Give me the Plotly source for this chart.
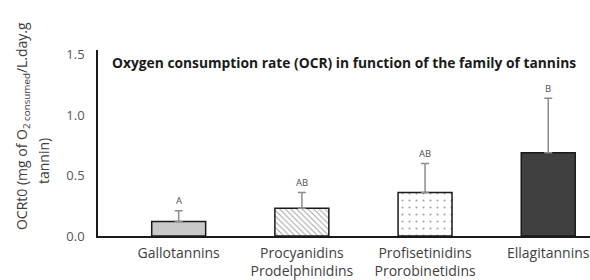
import plotly.graph_objects as go

categories = ["Gallotannins", "Procyanidins<br>Prodelphinidins",
              "Profisetinidins<br>Prorobinetidins", "Ellagitannins"]
ocr_values = [0.12, 0.23, 0.36, 0.69]
ocr_errors = [0.09, 0.13, 0.24, 0.45]
letters = ["A", "AB", "AB", "B"]
fill_colors = ["#c9c9c9", "#ffffff", "#ffffff", "#404040"]
pattern_shapes = ["", "\\", ".", ""]
y_title_line1 = "OCRt0 (mg of O<sub>2 consumed</sub>/L.day.g"
y_title_line2 = "tannin)"
chart_title = "<b>Oxygen consumption rate (OCR) in function of the family of tannins</b>"

FONT = "Open Sans"

fig = go.Figure()
fig.add_trace(go.Bar(
    x=categories, y=ocr_values,
    marker=dict(
        color=fill_colors,
        line=dict(color="#1a1a1a", width=1.5),
        pattern=dict(shape=pattern_shapes, fgcolor="#7a7a7a", bgcolor=fill_colors,
                     size=[6, 4, 7, 6], solidity=[0.2, 0.25, 0.07, 0.2], fillmode="overlay"),
    ),
    error_y=dict(type="data", array=ocr_errors, arrayminus=[0]*4, symmetric=False,
                 color="#8c8c8c", thickness=1.5, width=4),
    width=0.438,
    showlegend=False,
    hoverinfo="skip",
))

for c, v, e, l in zip(categories, ocr_values, ocr_errors, letters):
    fig.add_annotation(x=c, y=v + e, text=l, showarrow=False, yshift=10,
                       font=dict(size=9.5, color="#505050", family=FONT), yanchor="middle")

fig.add_annotation(xref="paper", yref="paper", x=0.024, y=0.935, xanchor="left", yanchor="middle",
                   text=chart_title, showarrow=False,
                   font=dict(size=13.8, color="#1a1a1a", family=FONT))

fig.add_annotation(xref="paper", yref="paper", x=-0.1545, y=0.591, xanchor="center", yanchor="middle",
                   text=y_title_line1, showarrow=False, textangle=-90,
                   font=dict(size=14, color="#404040", family=FONT))
fig.add_annotation(xref="paper", yref="paper", x=-0.1118, y=0.403, xanchor="center", yanchor="middle",
                   text=y_title_line2, showarrow=False, textangle=-90,
                   font=dict(size=14, color="#404040", family=FONT))

fig.update_layout(
    width=590, height=280,
    margin=dict(l=98, r=0, t=50, b=44),
    plot_bgcolor="white", paper_bgcolor="white",
    font=dict(family=FONT, color="#404040"),
    xaxis=dict(range=[-0.655, 3.339], showline=True, linecolor="#1a1a1a", linewidth=2,
               ticks="outside", ticklen=3, tickcolor="rgba(0,0,0,0)",
               tickfont=dict(size=14, color="#404040"), showgrid=False,
               automargin=False),
    yaxis=dict(range=[0, 1.54], tickvals=[0, 0.5, 1.0, 1.5],
               ticktext=["0.0", "0.5", "1.0", "1.5"], showline=True, linecolor="#1a1a1a",
               linewidth=1.5, showgrid=False, zeroline=False, ticks="outside", ticklen=9,
               tickcolor="rgba(0,0,0,0)", automargin=False,
               tickfont=dict(size=13, color="#555555")),
)

fig.write_html("out.html", config={"displayModeBar": False},
               post_script="document.body.style.margin='0';document.body.style.overflow='hidden';")
